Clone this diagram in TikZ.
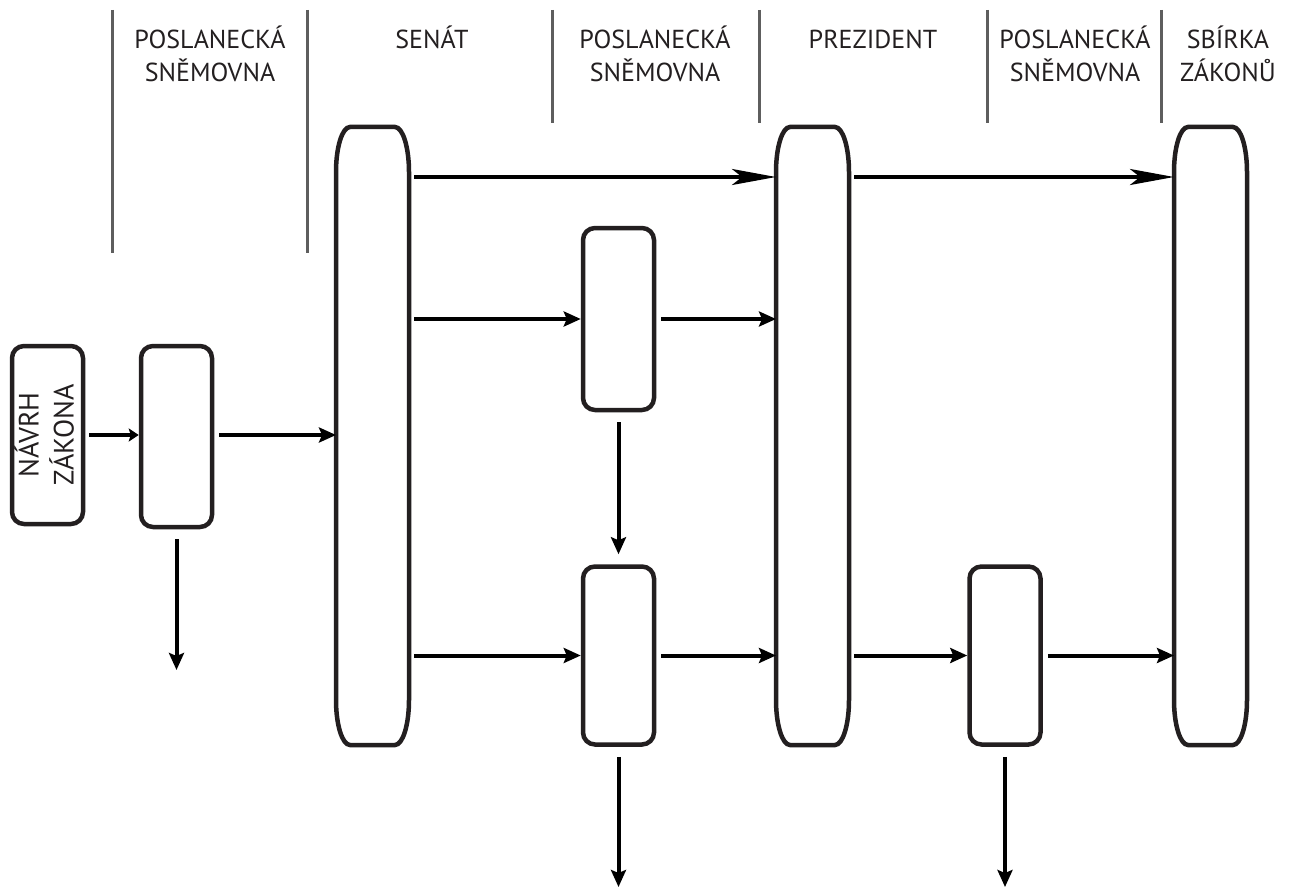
\documentclass[tikz,border=0pt]{standalone}
\usepackage{fontspec}
\setmainfont{PT Sans}
\usetikzlibrary{arrows.meta}
\definecolor{boxc}{HTML}{231F20}
\definecolor{sepc}{HTML}{5E5E5E}
\newcommand{\talloutline}[1]{%
  \draw[boxc, line width=4.5pt]
    ([yshift=-45pt]#1.north west)
    arc[start angle=180, end angle=90, x radius=14pt, y radius=45pt]
    -- ([xshift=-14pt]#1.north east)
    arc[start angle=90, end angle=0, x radius=14pt, y radius=45pt]
    -- ([yshift=45pt]#1.south east)
    arc[start angle=0, end angle=-90, x radius=14pt, y radius=45pt]
    -- ([xshift=14pt]#1.south west)
    arc[start angle=-90, end angle=-180, x radius=14pt, y radius=45pt]
    -- cycle;}
\begin{document}
\begin{tikzpicture}[x=1pt,y=-1pt,
  box/.style={draw=boxc, line width=4.5pt, rounded corners=12pt, minimum width=71pt, inner sep=0pt, outer sep=2.25pt},
  tall/.style={minimum width=73pt, minimum height=618pt, inner sep=0pt, outer sep=0pt},
  arr/.style={line width=4pt, -{Stealth[length=17pt,width=15pt,inset=3pt]}, shorten <=5pt},
  smallarr/.style={line width=4pt, -{Stealth[length=10pt,width=13pt,inset=2pt]}, shorten <=4pt},
  longarr/.style={line width=3.5pt, -{Stealth[length=44pt,width=16pt,inset=10pt]}, shorten <=5pt},
  sep/.style={draw=sepc, line width=3pt},
  lab/.style={text=boxc, font=\fontsize{26}{33}\selectfont, align=center, anchor=base, inner sep=0pt}
]
\useasboundingbox (0,0) rectangle (1293,888);

% separators
\draw[sep] (112,10) -- (112,253);
\draw[sep] (307,10) -- (307,253);
\draw[sep] (552,10) -- (552,123);
\draw[sep] (759,10) -- (759,123);
\draw[sep] (987,10) -- (987,123);
\draw[sep] (1161,10) -- (1161,123);

% headers (base = last line's baseline)
\node[lab] (h1) at (210,82) {POSLANECKÁ\\SNĚMOVNA};
\node[lab] (h2) at (432,49) {SENÁT};
\node[lab] (h3) at (655,82) {POSLANECKÁ\\SNĚMOVNA};
\node[lab] (h4) at (873,49) {PREZIDENT};
\node[lab] (h5) at (1075,82) {POSLANECKÁ\\SNĚMOVNA};
\node[lab] (h6) at (1228,82) {SBÍRKA\\ZÁKONŮ};

% boxes
\node[box, minimum height=178pt] (n1) at (47.5,435) {};
\node[text=boxc, font=\fontsize{28}{35}\selectfont, align=center, rotate=90, inner sep=0pt] (n1t) at (44,435) {NÁVRH\\ZÁKONA};
\node[box, minimum height=181pt] (n2) at (176.5,436.5) {};
\node[tall] (senat) at (372.5,436) {};
\talloutline{senat}
\node[box, minimum height=182pt] (n4) at (618.5,319) {};
\node[box, minimum height=178pt] (n5) at (618.5,655.5) {};
\node[tall] (prez) at (812.5,436) {};
\talloutline{prez}
\node[box, minimum height=178pt] (n7) at (1005,655.5) {};
\node[tall] (sbirka) at (1210.5,436) {};
\talloutline{sbirka}

% free ends
\coordinate (d2) at (177,670);
\coordinate (d5) at (618.5,887);
\coordinate (d7) at (1005,887);
\path ([yshift=-50pt]senat.north east) coordinate (t1);
\path ([yshift=-50pt]prez.north east) coordinate (t2);

% connectors
\draw[smallarr] (n1.east) -- (n1.east -| n2.west);
\draw[arr] (n1.east -| n2.east) -- (n1.east -| senat.west);
\draw[longarr] (t1) -- (t1 -| prez.west);
\draw[longarr] (t2) -- (t2 -| sbirka.west);
\draw[arr] (senat.east |- n4.west) -- (n4.west);
\draw[arr] (n4.east) -- (n4.east -| prez.west);
\draw[arr, shorten <=10pt, shorten >=10pt] (n4.south) -- (n5.north);
\draw[arr] (senat.east |- n5.west) -- (n5.west);
\draw[arr] (n5.east) -- (n5.east -| prez.west);
\draw[arr] (prez.east |- n7.west) -- (n7.west);
\draw[arr] (n7.east) -- (n7.east -| sbirka.west);
\draw[arr, shorten <=10pt] (n2.south) -- (n2.south |- d2);
\draw[arr, shorten <=10pt] (n5.south) -- (d5);
\draw[arr, shorten <=10pt] (n7.south) -- (d7);
\end{tikzpicture}
\end{document}
